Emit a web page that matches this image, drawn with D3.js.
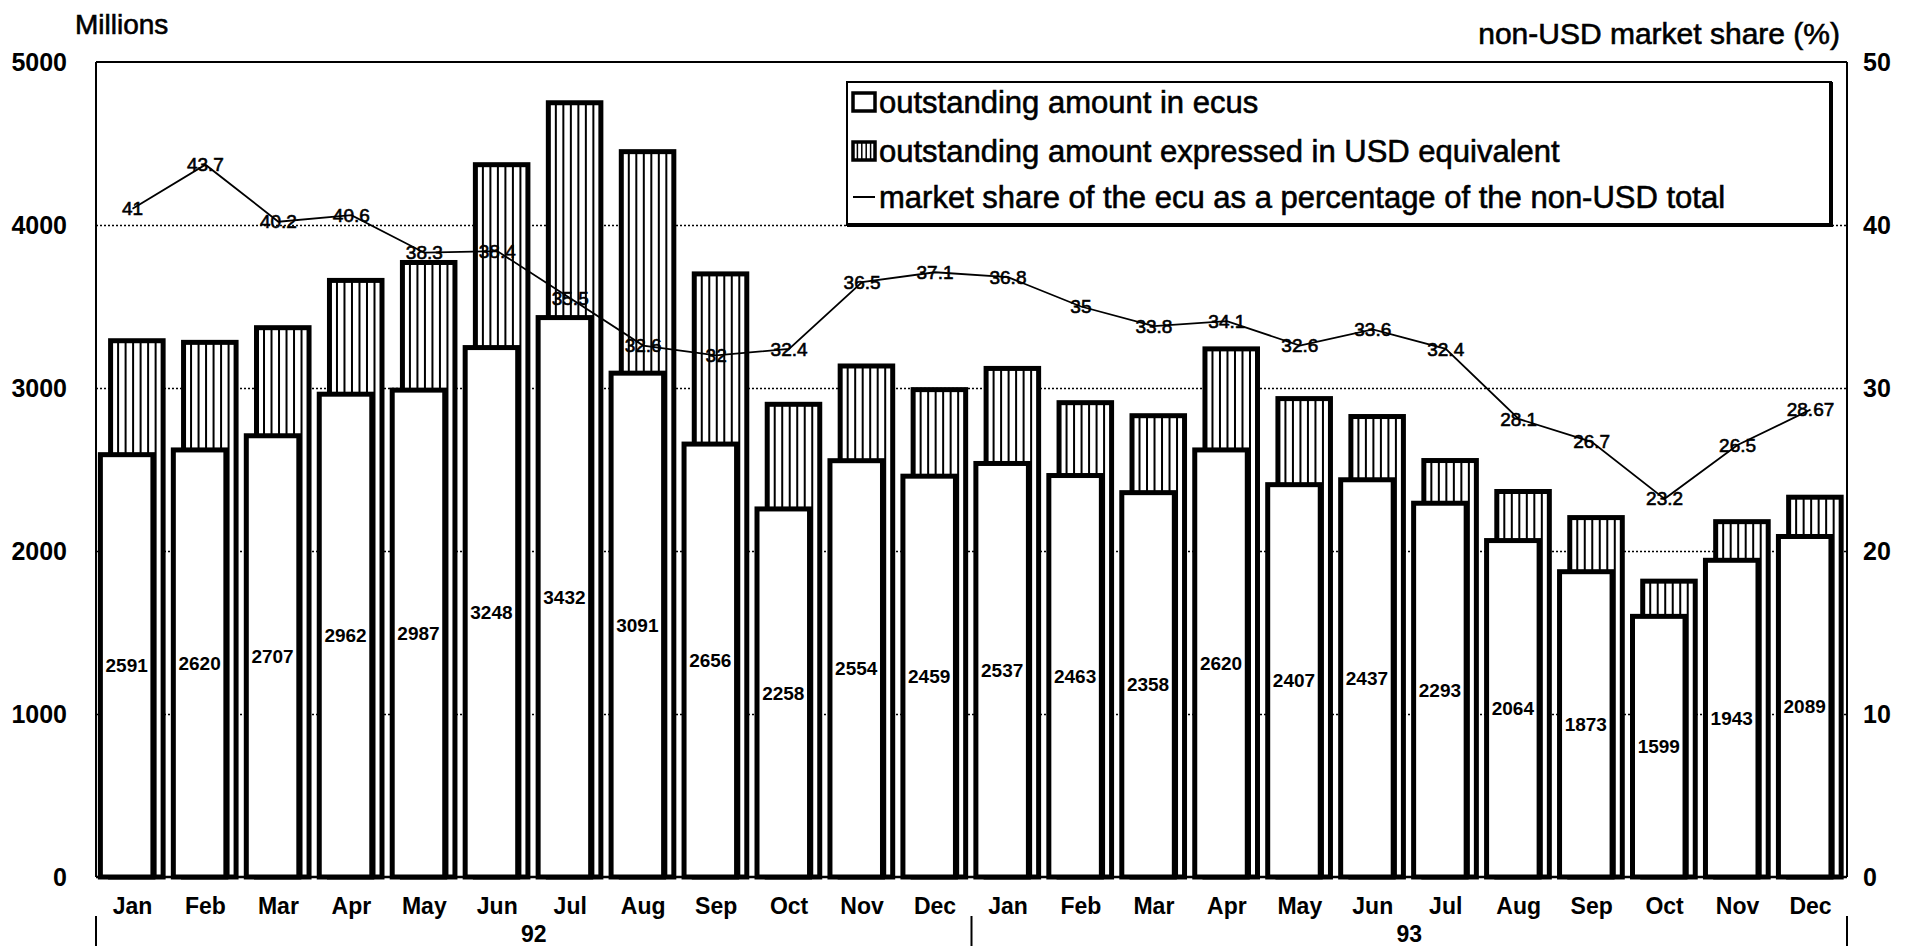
<!DOCTYPE html>
<html>
<head>
<meta charset="utf-8">
<script src="https://cdn.jsdelivr.net/npm/d3@7"></script>
<style>
  body { margin: 0; background: #fff; }
  svg { display: block; }
  text { font-family: "Liberation Sans", Arial, sans-serif; fill: #000; }
  .heavy { stroke: #000; stroke-width: 0.6px; }
</style>
</head>
<body>
<svg id="chart" width="1908" height="948"></svg>
<script>
// ---- data ----
const months = ["Jan","Feb","Mar","Apr","May","Jun","Jul","Aug","Sep","Oct","Nov","Dec",
                "Jan","Feb","Mar","Apr","May","Jun","Jul","Aug","Sep","Oct","Nov","Dec"];
const years = ["92", "93"];
// outstanding amount in ecus (millions)
const ecuAmounts = [2591, 2620, 2707, 2962, 2987, 3248, 3432, 3091, 2656, 2258, 2554, 2459,
                    2537, 2463, 2358, 2620, 2407, 2437, 2293, 2064, 1873, 1599, 1943, 2089];
// outstanding amount expressed in USD equivalent (millions)
const usdAmounts = [3290, 3280, 3370, 3660, 3770, 4370, 4750, 4450, 3700, 2900, 3135, 2990,
                    3120, 2910, 2830, 3240, 2935, 2825, 2555, 2365, 2205, 1815, 2180, 2330];
// market share of the ecu as a percentage of the non-USD total
const marketShare = [41, 43.7, 40.2, 40.6, 38.3, 38.4, 35.5, 32.6, 32, 32.4, 36.5, 37.1,
                     36.8, 35, 33.8, 34.1, 32.6, 33.6, 32.4, 28.1, 26.7, 23.2, 26.5, 28.67];
const leftTicks = [0, 1000, 2000, 3000, 4000, 5000];
const rightTicks = [0, 10, 20, 30, 40, 50];
const gridTicks = [1000, 2000, 3000, 4000];
const legendLabels = [
  "outstanding amount in ecus",
  "outstanding amount expressed in USD equivalent",
  "market share of the ecu as a percentage of the non-USD total"
];

// ---- layout ----
const svg = d3.select("#chart");
const plot = { left: 96, right: 1847, top: 62, bottom: 877 };

const x = d3.scaleBand().domain(d3.range(months.length)).range([plot.left, plot.right]);
const bw = x.bandwidth();
const yL = d3.scaleLinear().domain([0, 5000]).range([plot.bottom, plot.top]);
const yR = d3.scaleLinear().domain([0, 50]).range([plot.bottom, plot.top]);

const ecuX = i => x(i) + bw * 0.06;
const usdX = i => x(i) + bw * 0.20;
const barW = bw * 0.72;
const barStroke = 5;

// dotted gridlines
const grid = svg.append("g")
  .attr("transform", `translate(${plot.left},0)`)
  .call(d3.axisLeft(yL).tickValues(gridTicks).tickSize(-(plot.right - plot.left)).tickFormat(""));
grid.select(".domain").remove();
grid.selectAll("line").attr("stroke", "#000").attr("stroke-width", 1.6).attr("stroke-dasharray", "2,2");

// USD-equivalent bars (hatched), behind
const usdG = svg.append("g");
usdAmounts.forEach((v, i) => {
  const g = usdG.append("g");
  g.append("rect")
    .attr("x", usdX(i)).attr("y", yL(v))
    .attr("width", barW).attr("height", yL(0) - yL(v))
    .attr("fill", "#fff");
  g.selectAll("line").data(d3.range(1, 7)).join("line")
    .attr("x1", k => usdX(i) + barW * k / 7)
    .attr("x2", k => usdX(i) + barW * k / 7)
    .attr("y1", yL(v)).attr("y2", yL(0))
    .attr("stroke", "#000").attr("stroke-width", 2);
  g.append("rect")
    .attr("x", usdX(i)).attr("y", yL(v))
    .attr("width", barW).attr("height", yL(0) - yL(v))
    .attr("fill", "none").attr("stroke", "#000").attr("stroke-width", barStroke);
});

// ecu bars (white), in front
svg.append("g").selectAll("rect").data(ecuAmounts).join("rect")
  .attr("x", (d, i) => ecuX(i)).attr("y", d => yL(d))
  .attr("width", barW).attr("height", d => yL(0) - yL(d))
  .attr("fill", "#fff").attr("stroke", "#000").attr("stroke-width", barStroke);

// ecu value labels at bar mid-height
svg.append("g").selectAll("text").data(ecuAmounts).join("text")
  .attr("x", (d, i) => ecuX(i) + barW / 2)
  .attr("y", d => yL(d / 2))
  .attr("dy", "0.35em")
  .attr("text-anchor", "middle")
  .attr("font-size", 19).attr("font-weight", "bold")
  .text(d => d);

// frame: left axis, top, right, baseline
svg.append("line").attr("x1", plot.left).attr("x2", plot.left).attr("y1", plot.top).attr("y2", plot.bottom)
  .attr("stroke", "#000").attr("stroke-width", 2);
svg.append("line").attr("x1", plot.left).attr("x2", plot.right).attr("y1", plot.top).attr("y2", plot.top)
  .attr("stroke", "#000").attr("stroke-width", 2);
svg.append("line").attr("x1", plot.right).attr("x2", plot.right).attr("y1", plot.top).attr("y2", plot.bottom)
  .attr("stroke", "#000").attr("stroke-width", 2);
svg.append("line").attr("x1", plot.left).attr("x2", plot.right).attr("y1", plot.bottom).attr("y2", plot.bottom)
  .attr("stroke", "#000").attr("stroke-width", 2.5);

// market share line
const line = d3.line().x((d, i) => x(i) + bw / 2).y(d => yR(d));
svg.append("path").datum(marketShare)
  .attr("d", line).attr("fill", "none").attr("stroke", "#000").attr("stroke-width", 1.8);
svg.append("g").selectAll("text").data(marketShare).join("text")
  .attr("class", "heavy")
  .attr("x", (d, i) => x(i) + bw / 2)
  .attr("y", d => yR(d))
  .attr("dy", "0.35em")
  .attr("text-anchor", "middle")
  .attr("font-size", 19)
  .text(d => String(d));

// left axis labels
const axL = svg.append("g")
  .attr("transform", `translate(${plot.left},0)`)
  .call(d3.axisLeft(yL).tickValues(leftTicks).tickSize(0).tickPadding(29).tickFormat(d3.format("d")));
axL.select(".domain").remove();
axL.selectAll("text").attr("font-size", 25).attr("font-weight", "bold")
  .attr("font-family", "Liberation Sans, Arial, sans-serif").attr("fill", "#000");

// right axis labels
const axR = svg.append("g")
  .attr("transform", `translate(${plot.right},0)`)
  .call(d3.axisRight(yR).tickValues(rightTicks).tickSize(0).tickPadding(16).tickFormat(d3.format("d")));
axR.select(".domain").remove();
axR.selectAll("text").attr("font-size", 25).attr("font-weight", "bold")
  .attr("font-family", "Liberation Sans, Arial, sans-serif").attr("fill", "#000");

// month labels
const axB = svg.append("g")
  .attr("transform", `translate(0,${plot.bottom})`)
  .call(d3.axisBottom(x).tickSize(0).tickPadding(21).tickFormat(i => months[i]));
axB.select(".domain").remove();
axB.selectAll("text").attr("font-size", 23).attr("font-weight", "bold")
  .attr("font-family", "Liberation Sans, Arial, sans-serif").attr("fill", "#000");

// year labels and separators
years.forEach((yr, k) => {
  const start = x(k * 12), end = x(k * 12 + 11) + bw;
  svg.append("text").attr("x", (start + end) / 2).attr("y", 942)
    .attr("text-anchor", "middle").attr("font-size", 23).attr("font-weight", "bold").text(yr);
});
[x(0), x(12), x(23) + bw].forEach(sx => {
  svg.append("line").attr("x1", sx).attr("x2", sx).attr("y1", 916).attr("y2", 946)
    .attr("stroke", "#000").attr("stroke-width", 2);
});

// axis titles
svg.append("text").attr("class", "heavy").attr("x", 75).attr("y", 34).attr("font-size", 28).text("Millions");
svg.append("text").attr("class", "heavy").attr("x", 1840).attr("y", 44).attr("text-anchor", "end").attr("font-size", 30)
  .text("non-USD market share (%)");

// legend
const lg = svg.append("g");
lg.append("rect").attr("x", 847).attr("y", 82).attr("width", 984).attr("height", 143)
  .attr("fill", "#fff").attr("stroke", "#000").attr("stroke-width", 2);
// heavier right and bottom edges
lg.append("path").attr("d", `M${847 + 984},82 V${82 + 143} H847`)
  .attr("fill", "none").attr("stroke", "#000").attr("stroke-width", 4);
const rowY = [102, 151, 197];
const iconX = 853, iconW = 22, iconH = 18;
lg.append("rect").attr("x", iconX).attr("y", rowY[0] - iconH / 2).attr("width", iconW).attr("height", iconH)
  .attr("fill", "#fff").attr("stroke", "#000").attr("stroke-width", 3.5);
lg.append("rect").attr("x", iconX).attr("y", rowY[1] - iconH / 2).attr("width", iconW).attr("height", iconH)
  .attr("fill", "#fff").attr("stroke", "#000").attr("stroke-width", 3.5);
lg.selectAll("line.hatch").data(d3.range(1, 5)).join("line").attr("class", "hatch")
  .attr("x1", k => iconX + iconW * k / 5).attr("x2", k => iconX + iconW * k / 5)
  .attr("y1", rowY[1] - iconH / 2).attr("y2", rowY[1] + iconH / 2)
  .attr("stroke", "#000").attr("stroke-width", 1.5);
lg.append("line").attr("x1", iconX).attr("x2", iconX + iconW).attr("y1", rowY[2]).attr("y2", rowY[2])
  .attr("stroke", "#000").attr("stroke-width", 2);
lg.selectAll("text").data(legendLabels).join("text")
  .attr("class", "heavy")
  .attr("x", iconX + iconW + 4)
  .attr("y", (d, i) => rowY[i])
  .attr("dy", "0.35em")
  .attr("font-size", 31)
  .text(d => d);
</script>
</body>
</html>
